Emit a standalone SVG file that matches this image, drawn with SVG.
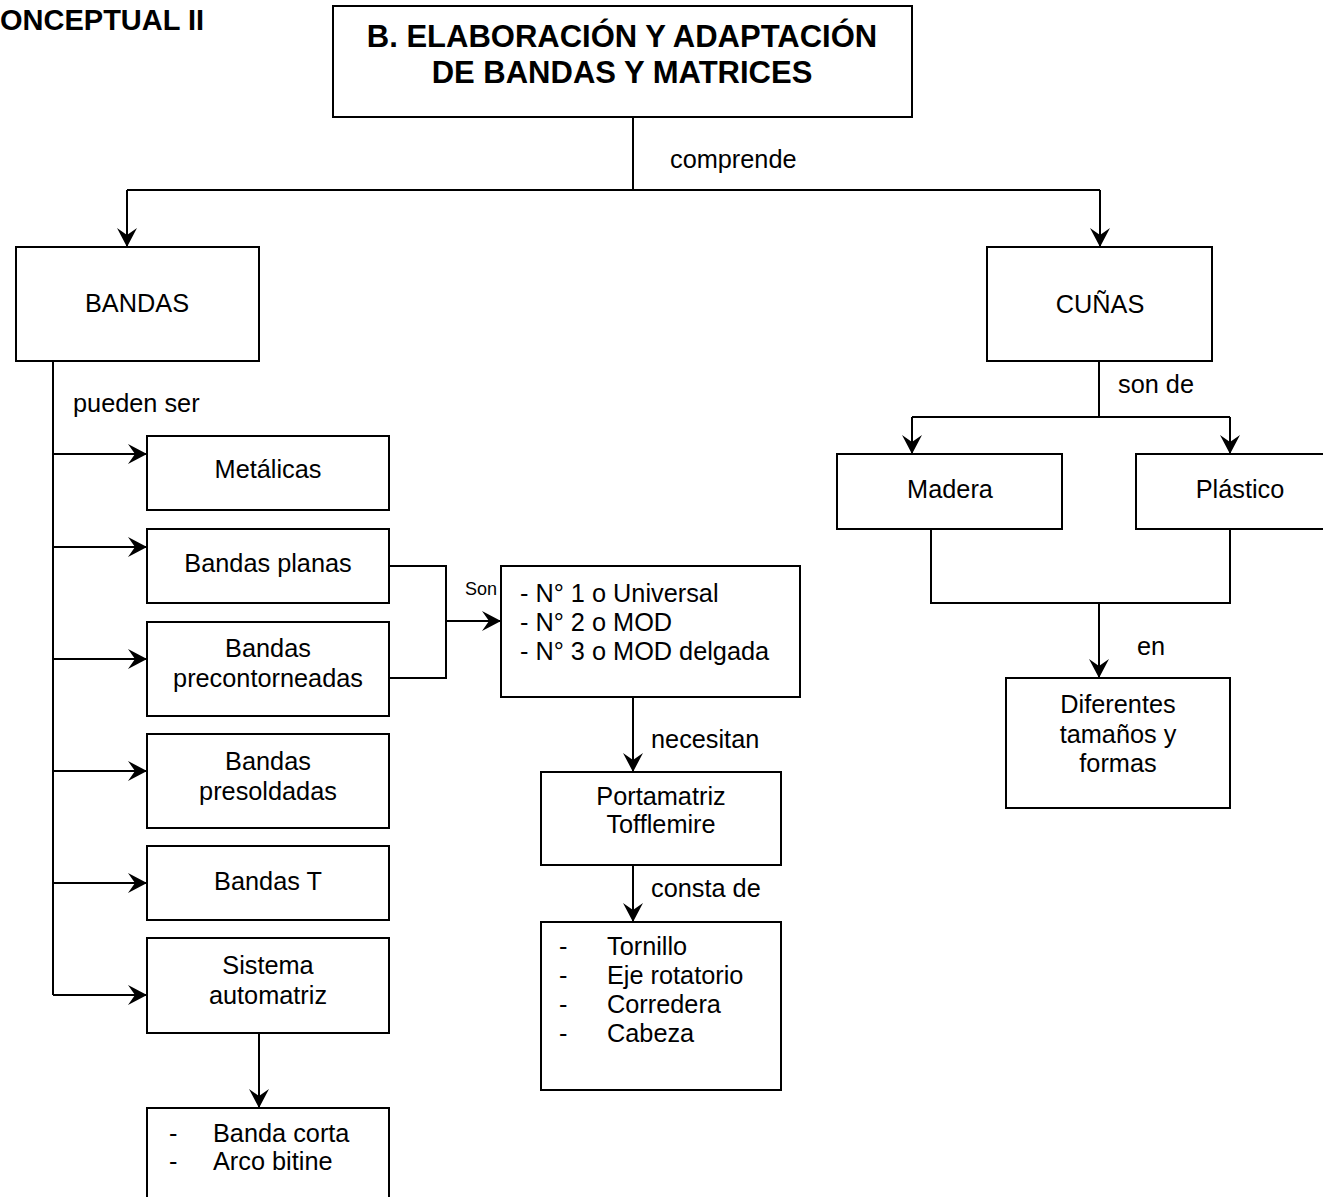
<svg xmlns="http://www.w3.org/2000/svg" width="1323" height="1197" viewBox="0 0 1323 1197">
<style>
.box{fill:#fff;stroke:#000;stroke-width:2}
.ln{fill:none;stroke:#000;stroke-width:2}
.arr{fill:none;stroke:#000;stroke-width:2;marker-end:url(#ah)}
text{font-family:"Liberation Sans",Arial,sans-serif;font-size:25.3px;fill:#000}
.c{text-anchor:middle}
.b{font-weight:bold}
</style>
<defs>
<marker id="ah" markerUnits="userSpaceOnUse" markerWidth="22" markerHeight="22" viewBox="-20 -11 21 22" refX="0" refY="0" orient="auto">
<path d="M0,0 L-19,-10 L-12,0 L-19,10 Z" fill="#000"/>
</marker>
</defs>
<rect width="1323" height="1197" fill="#fff"/>
<text class="b" x="0" y="30" style="font-size:29px">ONCEPTUAL II</text>

<g id="connectors">
<path class="ln" d="M633,117 V190 M127,190 H1100"/>
<path class="arr" d="M127,190 V247"/>
<path class="arr" d="M1100,190 V247"/>
<path class="ln" d="M53,361 V995"/>
<path class="arr" d="M53,454 H147"/>
<path class="arr" d="M53,547 H147"/>
<path class="arr" d="M53,659 H147"/>
<path class="arr" d="M53,771 H147"/>
<path class="arr" d="M53,883 H147"/>
<path class="arr" d="M53,995 H147"/>
<path class="ln" d="M390,566 H446 V678 H390"/>
<path class="arr" d="M446,621 H501"/>
<path class="arr" d="M633,697 V772"/>
<path class="arr" d="M633,865 V922"/>
<path class="arr" d="M259,1033 V1108"/>
<path class="ln" d="M1099,361 V417 M912,417 H1230"/>
<path class="arr" d="M912,417 V454"/>
<path class="arr" d="M1230,417 V454"/>
<path class="ln" d="M931,529 V603 H1230 V529"/>
<path class="arr" d="M1099,603 V678"/>
<text x="670" y="168">comprende</text>
<text x="73" y="412">pueden ser</text>
<text x="465" y="595" style="font-size:18px">Son</text>
<text x="651" y="748">necesitan</text>
<text x="651" y="897">consta de</text>
<text x="1118" y="393">son de</text>
<text x="1137" y="655">en</text>
</g>

<g id="n-title"><rect class="box" x="333" y="6" width="579" height="111"/>
<text class="c b" x="622" y="47" style="font-size:31px">B. ELABORACIÓN Y ADAPTACIÓN</text>
<text class="c b" x="622" y="83" style="font-size:31px">DE BANDAS Y MATRICES</text></g>

<g id="n-bandas"><rect class="box" x="16" y="247" width="243" height="114"/>
<text class="c" x="137" y="312">BANDAS</text></g>

<g id="n-cunas"><rect class="box" x="987" y="247" width="225" height="114"/>
<text class="c" x="1100" y="313">CUÑAS</text></g>

<g id="n-metalicas"><rect class="box" x="147" y="436" width="242" height="74"/>
<text class="c" x="268" y="478">Metálicas</text></g>

<g id="n-planas"><rect class="box" x="147" y="529" width="242" height="74"/>
<text class="c" x="268" y="572">Bandas planas</text></g>

<g id="n-precont"><rect class="box" x="147" y="622" width="242" height="94"/>
<text class="c" x="268" y="657">Bandas</text>
<text class="c" x="268" y="687">precontorneadas</text></g>

<g id="n-presold"><rect class="box" x="147" y="734" width="242" height="94"/>
<text class="c" x="268" y="770">Bandas</text>
<text class="c" x="268" y="800">presoldadas</text></g>

<g id="n-bandast"><rect class="box" x="147" y="846" width="242" height="74"/>
<text class="c" x="268" y="890">Bandas T</text></g>

<g id="n-sistema"><rect class="box" x="147" y="938" width="242" height="95"/>
<text class="c" x="268" y="974">Sistema</text>
<text class="c" x="268" y="1004">automatriz</text></g>

<g id="n-banda-corta"><rect class="box" x="147" y="1108" width="242" height="110"/>
<text x="169" y="1142">-</text><text x="213" y="1142">Banda corta</text>
<text x="169" y="1170">-</text><text x="213" y="1170">Arco bitine</text></g>

<g id="n-numeros"><rect class="box" x="501" y="566" width="299" height="131"/>
<text x="520" y="602">- N° 1 o Universal</text>
<text x="520" y="631">- N° 2 o MOD</text>
<text x="520" y="660">- N° 3 o MOD delgada</text></g>

<g id="n-portamatriz"><rect class="box" x="541" y="772" width="240" height="93"/>
<text class="c" x="661" y="805">Portamatriz</text>
<text class="c" x="661" y="833">Tofflemire</text></g>

<g id="n-partes"><rect class="box" x="541" y="922" width="240" height="168"/>
<text x="559" y="955">-</text><text x="607" y="955">Tornillo</text>
<text x="559" y="984">-</text><text x="607" y="984">Eje rotatorio</text>
<text x="559" y="1013">-</text><text x="607" y="1013">Corredera</text>
<text x="559" y="1042">-</text><text x="607" y="1042">Cabeza</text></g>

<g id="n-madera"><rect class="box" x="837" y="454" width="225" height="75"/>
<text class="c" x="950" y="498">Madera</text></g>

<g id="n-plastico"><rect class="box" x="1136" y="454" width="210" height="75"/>
<text class="c" x="1240" y="498">Plástico</text></g>

<g id="n-diferentes"><rect class="box" x="1006" y="678" width="224" height="130"/>
<text class="c" x="1118" y="713">Diferentes</text>
<text class="c" x="1118" y="743">tamaños y</text>
<text class="c" x="1118" y="772">formas</text></g>
</svg>
